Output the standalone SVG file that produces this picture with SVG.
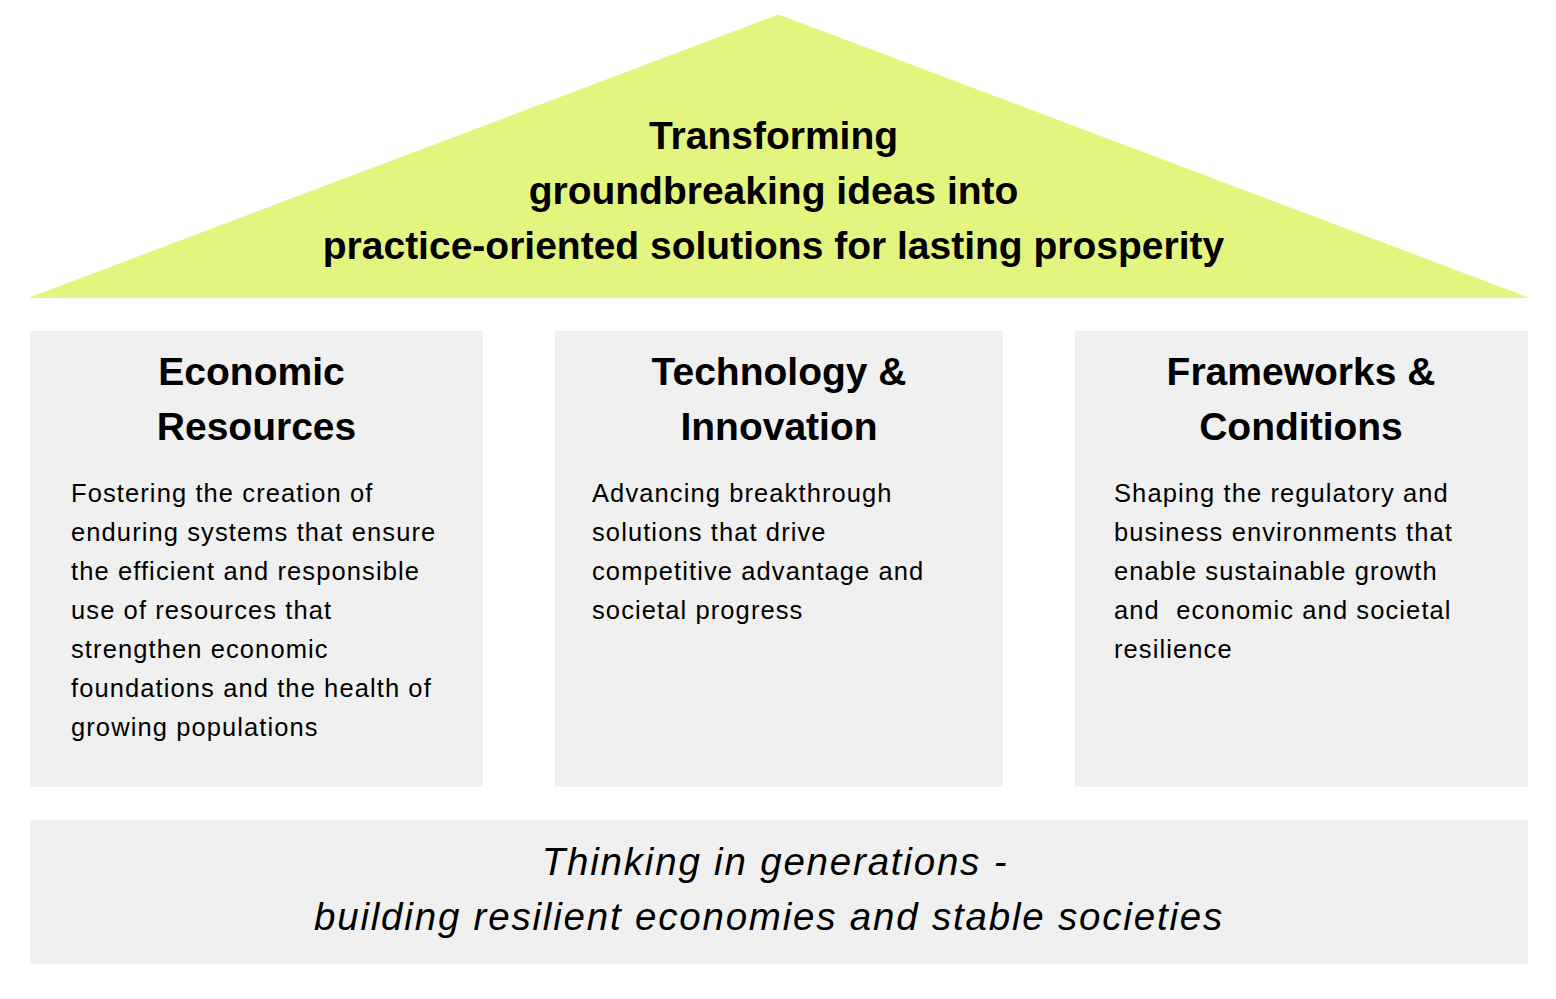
<svg xmlns="http://www.w3.org/2000/svg" width="1556" height="999" viewBox="0 0 1556 999">
  <style>
    .box { fill: #f0f0f0; }
    .roof { fill: #e4f57f; stroke: #e4f57f; stroke-width: 1; stroke-linejoin: round; }
    .title { font-family: "Liberation Sans", Arial, sans-serif; font-weight: bold; font-size: 39px; fill: #000; text-anchor: middle; }
    .head { font-family: "Liberation Sans", Arial, sans-serif; font-weight: bold; font-size: 39px; fill: #000; text-anchor: middle; }
    .body { font-family: "Liberation Sans", Arial, sans-serif; font-size: 25.5px; letter-spacing: 1.1px; fill: #000; }
    .foot { font-family: "Liberation Sans", Arial, sans-serif; font-style: italic; font-size: 38.5px; letter-spacing: 1.8px; fill: #000; text-anchor: middle; }
  </style>
  <rect width="1556" height="999" fill="#ffffff"/>

  <g id="roof">
    <polygon class="roof" points="30.5,297.5 778.5,15 1527.5,297.5"/>
    <text class="title" x="773.5" y="149">Transforming</text>
    <text class="title" x="773.5" y="204">groundbreaking ideas into</text>
    <text class="title" x="773.5" y="259">practice-oriented solutions for lasting prosperity</text>
  </g>

  <g id="economic-resources">
    <rect class="box" x="30" y="331" width="453" height="456"/>
    <text class="head" x="251.5" y="385">Economic</text>
    <text class="head" x="256.5" y="440">Resources</text>
    <text class="body" x="71" y="502">Fostering the creation of</text>
    <text class="body" x="71" y="541">enduring systems that ensure</text>
    <text class="body" x="71" y="580">the efficient and responsible</text>
    <text class="body" x="71" y="619">use of resources that</text>
    <text class="body" x="71" y="658">strengthen economic</text>
    <text class="body" x="71" y="697">foundations and the health of</text>
    <text class="body" x="71" y="736">growing populations</text>
  </g>

  <g id="technology-innovation">
    <rect class="box" x="555" y="331" width="448" height="456"/>
    <text class="head" x="779" y="385">Technology &amp;</text>
    <text class="head" x="779" y="440">Innovation</text>
    <text class="body" x="592" y="502">Advancing breakthrough</text>
    <text class="body" x="592" y="541">solutions that drive</text>
    <text class="body" x="592" y="580">competitive advantage and</text>
    <text class="body" x="592" y="619">societal progress</text>
  </g>

  <g id="frameworks-conditions">
    <rect class="box" x="1075" y="331" width="453" height="456"/>
    <text class="head" x="1301" y="385">Frameworks &amp;</text>
    <text class="head" x="1301" y="440">Conditions</text>
    <text class="body" x="1114" y="502">Shaping the regulatory and</text>
    <text class="body" x="1114" y="541">business environments that</text>
    <text class="body" x="1114" y="580">enable sustainable growth</text>
    <text class="body" x="1114" y="619" xml:space="preserve">and  economic and societal</text>
    <text class="body" x="1114" y="658">resilience</text>
  </g>

  <g id="foundation">
    <rect class="box" x="30" y="820" width="1498" height="144"/>
    <text class="foot" x="775" y="875">Thinking in generations -</text>
    <text class="foot" x="769" y="930">building resilient economies and stable societies</text>
  </g>

  <g id="connectors"></g>
</svg>
